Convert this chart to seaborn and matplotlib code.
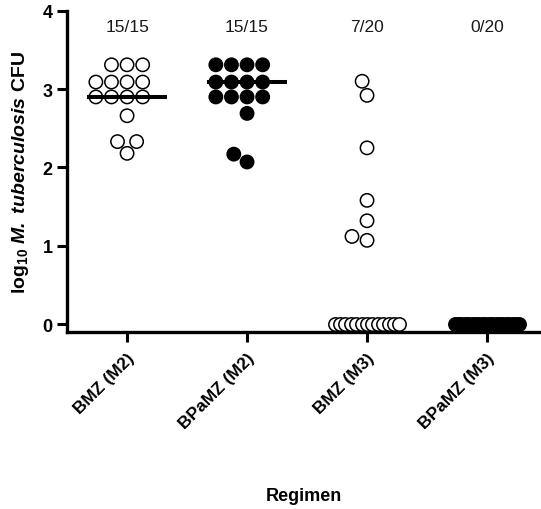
import numpy as np
import pandas as pd
import matplotlib
matplotlib.use("Agg")
import matplotlib.pyplot as plt
import seaborn as sns

# values (log10 CFU per mouse)
regimens = ["BMZ (M2)", "BPaMZ (M2)", "BMZ (M3)", "BPaMZ (M3)"]
bmz_m2 = [3.31, 3.31, 3.31, 3.09, 3.09, 3.09, 3.09, 2.90, 2.90, 2.90, 2.90, 2.66, 2.33, 2.33, 2.18]
bpamz_m2 = [3.31, 3.31, 3.31, 3.31, 3.09, 3.09, 3.09, 3.09, 2.90, 2.90, 2.90, 2.90, 2.69, 2.17, 2.07]
bmz_m3 = [3.10, 2.92, 2.25, 1.58, 1.32, 1.12, 1.07] + [0.0] * 13
bpamz_m3 = [0.0] * 20
culture_pos = ["15/15", "15/15", "7/20", "0/20"]
marker_style = ["open", "filled", "open", "filled"]

groups = [bmz_m2, bpamz_m2, bmz_m3, bpamz_m3]

rows = []
for reg, vals, sty in zip(regimens, groups, marker_style):
    for v in vals:
        rows.append({"Regimen": reg, "CFU": v, "style": sty})
df = pd.DataFrame(rows)

sns.set_style("ticks")
plt.rcParams["font.family"] = ["Liberation Sans", "DejaVu Sans"]
plt.rcParams["mathtext.fontset"] = "custom"
plt.rcParams["mathtext.rm"] = "Liberation Sans"
plt.rcParams["mathtext.bf"] = "Liberation Sans:bold"
plt.rcParams["mathtext.it"] = "Liberation Sans:italic"
plt.rcParams["mathtext.bfit"] = "Liberation Sans:bold:italic"
plt.rcParams["text.color"] = "black"
plt.rcParams["axes.labelcolor"] = "black"
plt.rcParams["xtick.color"] = "black"
plt.rcParams["ytick.color"] = "black"
plt.rcParams["axes.edgecolor"] = "black"

fig = plt.figure(figsize=(5.41, 5.10), dpi=100)
ax = fig.add_axes([0.124, 0.347, 0.876, 0.630])

palette = {"open": "white", "filled": "black"}
msize = 9.6

# culture positive animals: beeswarm
nonzero = df[df["CFU"] > 0]
sns.swarmplot(data=nonzero, x="Regimen", y="CFU", hue="style", order=regimens,
              palette=palette, size=msize, edgecolor="black", linewidth=1.1,
              legend=False, zorder=3, ax=ax)

# culture negative animals sit at 0, squeezed into a band
for i, (vals, sty) in enumerate(zip(groups, marker_style)):
    zeros = [v for v in vals if v == 0]
    if not zeros:
        continue
    xs = i + np.linspace(-0.27, 0.27, len(zeros))
    sns.scatterplot(x=xs, y=zeros, color=palette[sty], edgecolor="black",
                    linewidth=1.1, s=msize ** 2, zorder=3, legend=False, ax=ax)

# medians
for i, vals in enumerate(groups):
    med = np.median(vals)
    if med > 0:
        ax.hlines(med, i - 0.33, i + 0.33, color="black", lw=2.9, zorder=4)

# fraction culture positive above each group
for i, txt in enumerate(culture_pos):
    ax.text(i, 3.8, txt, ha="center", va="center", fontsize=12.5, color="#1a1a1a")

ax.set_xlim(-0.5, 3.45)
ax.set_ylim(-0.1, 4.0)
ax.set_yticks([0, 1, 2, 3, 4])
ax.set_xticks(range(len(regimens)))
ax.set_xticklabels(regimens, rotation=45, ha="right", rotation_mode="anchor",
                   fontsize=12.5, fontweight="bold")
for lab in ax.get_yticklabels():
    lab.set_fontweight("bold")
    lab.set_fontsize(13)

ax.tick_params(axis="both", length=7, width=2.2, direction="out")
ax.tick_params(axis="x", pad=6)
for s in ["left", "bottom"]:
    ax.spines[s].set_linewidth(2.4)
sns.despine(ax=ax)

ax.set_ylabel(r"$\mathbf{log_{10}}$ $\mathbfit{M.\ tuberculosis}$ $\mathbf{CFU}$",
              fontsize=14, labelpad=8)
ax.set_xlabel("Regimen", fontsize=13, fontweight="bold", labelpad=40)

fig.savefig("out.png", dpi=100)
